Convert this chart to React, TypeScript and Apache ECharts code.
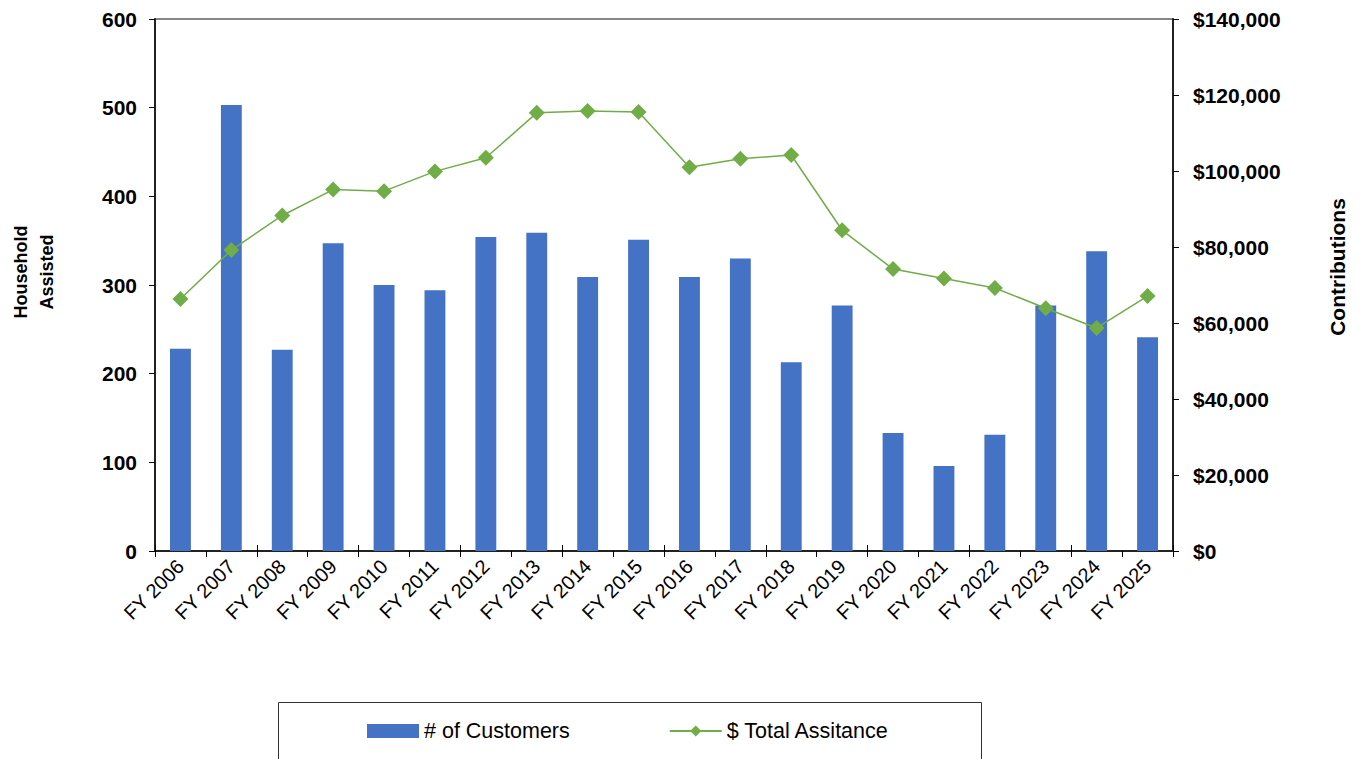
import React, { useEffect, useRef } from "react";
import * as echarts from "echarts";

const categories = [
  "FY 2006", "FY 2007", "FY 2008", "FY 2009", "FY 2010", "FY 2011", "FY 2012",
  "FY 2013", "FY 2014", "FY 2015", "FY 2016", "FY 2017", "FY 2018", "FY 2019",
  "FY 2020", "FY 2021", "FY 2022", "FY 2023", "FY 2024", "FY 2025",
];
const customers = [228, 503, 227, 347, 300, 294, 354, 359, 309, 351, 309, 330, 213, 277, 133, 96, 131, 277, 338, 241];
const totalAssistance = [66300, 79200, 88300, 95100, 94700, 99900, 103500, 115300, 115800, 115500, 101000, 103200, 104200, 84400, 74200, 71700, 69200, 63900, 58700, 67100];

const FONT = "'Liberation Sans', Arial, sans-serif";

export default function App() {
  const ref = useRef<HTMLDivElement>(null);
  useEffect(() => {
    if (!ref.current) return;
    const chart = echarts.init(ref.current, undefined, { renderer: "svg" });
    chart.setOption({
      animation: false,
      textStyle: { fontFamily: FONT },
      grid: { left: 155, right: 189, top: 19, bottom: 208, containLabel: false, outerBoundsMode: "none" },
      legend: {
        left: 362,
        top: 715,
        padding: 5,
        itemWidth: 52,
        itemHeight: 14,
        itemGap: 99,
        textStyle: { fontFamily: FONT, fontSize: 21.5, color: "#000" },
        data: [
          { name: "# of Customers", icon: "rect" },
          { name: "$ Total Assitance" },
        ],
      },
      graphic: [
        {
          type: "rect",
          shape: { x: 278.5, y: 702.5, width: 703, height: 80 },
          style: { fill: "none", stroke: "#333", lineWidth: 1 },
          silent: true,
        },
        {
          type: "line",
          shape: { x1: 155, y1: 19, x2: 1173, y2: 19 },
          style: { stroke: "#888", lineWidth: 2 },
          silent: true,
        },
        {
          type: "text",
          x: 34,
          y: 272,
          rotation: Math.PI / 2,
          style: {
            text: "Household\nAssisted",
            fontFamily: FONT,
            fontSize: 18,
            fontWeight: "bold",
            lineHeight: 26,
            fill: "#000",
            align: "center",
            verticalAlign: "middle",
          },
          silent: true,
        },
        {
          type: "text",
          x: 1337,
          y: 267,
          rotation: Math.PI / 2,
          style: {
            text: "Contributions",
            fontFamily: FONT,
            fontSize: 21,
            fontWeight: "bold",
            fill: "#000",
            align: "center",
            verticalAlign: "middle",
          },
          silent: true,
        },
      ],
      xAxis: [
        {
          type: "category",
          data: categories,
          boundaryGap: true,
          axisLine: { lineStyle: { color: "#222", width: 2 } },
          axisTick: { show: true, inside: false, length: 6, lineStyle: { color: "#000" } },
          axisLabel: { rotate: 45, fontSize: 20, color: "#000", margin: 12, fontFamily: FONT, interval: 0 },
        },
        {
          type: "category",
          data: categories,
          position: "bottom",
          boundaryGap: true,
          axisLine: { show: false },
          axisTick: { show: true, inside: true, length: 6, lineStyle: { color: "#000" } },
          axisLabel: { show: false },
        },
      ],
      yAxis: [
        {
          type: "value",
          min: 0,
          max: 600,
          interval: 100,
          position: "left",
          axisLine: { show: true, lineStyle: { color: "#222", width: 2 } },
          axisTick: { show: true, length: 6, lineStyle: { color: "#000" } },
          axisLabel: { fontSize: 21, fontWeight: "bold", color: "#000", margin: 18, fontFamily: FONT },
          splitLine: { show: false },
        },
        {
          type: "value",
          min: 0,
          max: 140000,
          interval: 20000,
          position: "right",
          axisLine: { show: true, lineStyle: { color: "#222", width: 2 } },
          axisTick: { show: true, length: 6, lineStyle: { color: "#000" } },
          axisLabel: {
            fontSize: 21,
            fontWeight: "bold",
            color: "#000",
            margin: 20,
            fontFamily: FONT,
            formatter: (v: number) => "$" + v.toLocaleString("en-US"),
          },
          splitLine: { show: false },
        },
      ],
      series: [
        {
          name: "# of Customers",
          type: "bar",
          data: customers,
          xAxisIndex: 0,
          yAxisIndex: 0,
          barWidth: "41%",
          itemStyle: { color: "#4472C4" },
        },
        {
          name: "$ Total Assitance",
          type: "line",
          data: totalAssistance,
          xAxisIndex: 0,
          yAxisIndex: 1,
          symbol: "diamond",
          symbolSize: 16,
          lineStyle: { color: "#70AD47", width: 1.5 },
          itemStyle: { color: "#70AD47" },
        },
      ],
    });
    return () => chart.dispose();
  }, []);
  return (
    <div
      ref={ref}
      style={{ width: 1362, height: 759, position: "absolute", left: 0, top: 0 }}
    />
  );
}
